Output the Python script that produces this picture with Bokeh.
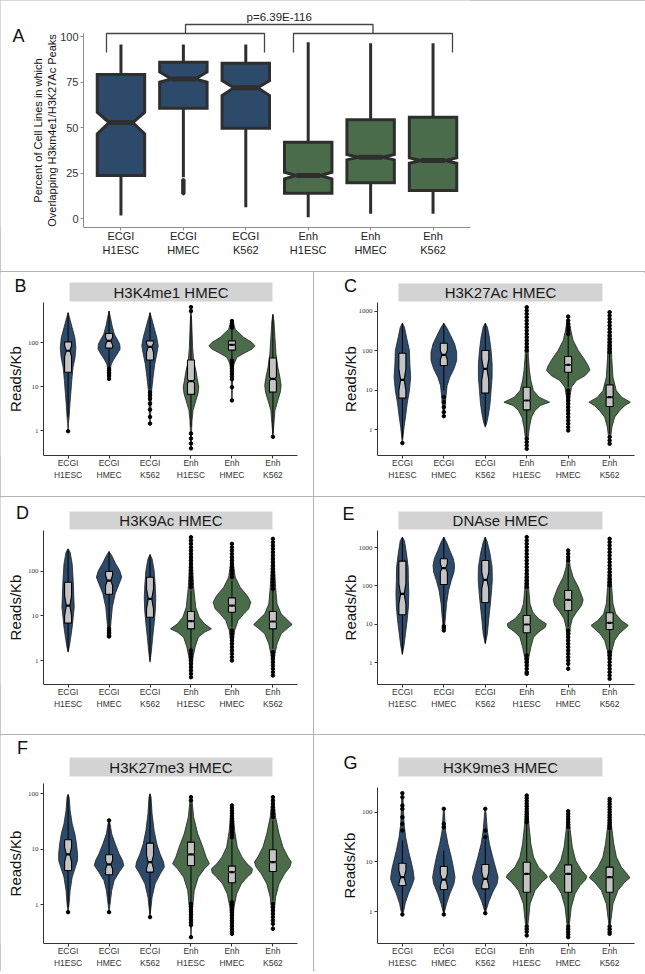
import numpy as np
from bokeh.plotting import figure
from bokeh.models import Range1d, FixedTicker, NumeralTickFormatter, Spacer
from bokeh.core.properties import value
from bokeh.layouts import column, row
from bokeh.embed import file_html
from bokeh.resources import INLINE

# ---------------- shared categories ----------------
categories = ["ECGI\nH1ESC", "ECGI\nHMEC", "ECGI\nK562", "Enh\nH1ESC", "Enh\nHMEC", "Enh\nK562"]
groups = ["ECGI", "ECGI", "ECGI", "Enh", "Enh", "Enh"]
positions = [1, 2, 3, 4, 5, 6]

# ---------------- panel A: percent of cell lines (box plot) ----------------
a_whisker_lo = [1.6, 22.7, 6.2, 0.7, 2.6, 2.6]
a_q1 = [23.6, 60.6, 49.6, 13.9, 19.6, 15.4]
a_median = [52.7, 76.7, 71.8, 23.6, 33.7, 31.9]
a_q3 = [79.1, 85.9, 85.3, 41.9, 54.2, 55.7]
a_whisker_hi = [95.6, 95.6, 95.6, 96.9, 96.3, 96.3]
a_notch_lo = [46.5, 74.9, 67.6, 21.8, 32.2, 30.4]
a_notch_hi = [58.4, 80.5, 75.8, 25.4, 35.2, 33.3]
a_outlier_cat = [2, 2, 2, 2, 2, 2, 2, 2, 2]
a_outlier_val = [21.0, 20.1, 19.2, 18.3, 17.4, 16.5, 15.6, 14.8, 13.9]
a_yticks = [0, 25, 50, 75, 100]
a_pvalue = "p=6.39E-116"

# ---------------- violin panels (values in log10 Reads/Kb) ----------------
B_title = "H3K4me1 HMEC"
B_vy = [
    [-0.015, 0.158, 0.308, 0.534, 0.835, 1.135, 1.436, 1.662, 1.887, 2.113, 2.338, 2.564, 2.677],
    [1.173, 1.361, 1.511, 1.624, 1.737, 1.85, 1.962, 2.075, 2.188, 2.376, 2.564, 2.714],
    [0.158, 0.383, 0.609, 0.91, 1.211, 1.511, 1.737, 1.925, 2.113, 2.338, 2.564, 2.677],
    [-0.406, -0.218, 0.008, 0.233, 0.459, 0.684, 0.835, 0.985, 1.135, 1.361, 1.586, 1.887, 2.263, 2.639, 2.805],
    [0.684, 0.91, 1.135, 1.361, 1.511, 1.662, 1.774, 1.85, 1.925, 2.0, 2.113, 2.301, 2.451, 2.489],
    [-0.143, 0.158, 0.459, 0.684, 0.872, 1.023, 1.211, 1.436, 1.737, 2.113, 2.489, 2.639],
]
B_vw = [
    [0, .01, .025, .04, .065, .09, .12, .17, .19, .165, .1, .035, 0],
    [0, .025, .055, .12, .2, .27, .26, .2, .13, .075, .035, 0],
    [0, .015, .025, .04, .075, .115, .165, .2, .165, .1, .035, 0],
    [0, .01, .015, .025, .05, .12, .17, .19, .16, .12, .065, .04, .025, .01, 0],
    [0, .01, .015, .025, .05, .12, .33, .49, .56, .49, .29, .08, .035, 0],
    [0, .025, .05, .12, .18, .2, .17, .12, .075, .05, .025, 0],
]
B_box = [  # whisker_lo, q1, median, q3, whisker_hi
    [0.308, 1.323, 1.812, 2.015, 2.677],
    [1.436, 1.872, 2.038, 2.203, 2.714],
    [0.947, 1.602, 1.902, 2.038, 2.677],
    [0.083, 0.82, 1.12, 1.602, 2.6],
    [1.624, 1.827, 1.947, 2.038, 2.301],
    [-0.068, 0.872, 1.173, 1.647, 2.639],
]
B_notch = [[1.677, 1.925], [1.947, 2.113], [1.774, 1.977], [1.075, 1.165], [1.93, 1.964], [1.13, 1.216]]
B_out = [
    [-0.015],
    [1.398, 1.361, 1.323, 1.286, 1.241, 1.173],
    [0.872, 0.797, 0.722, 0.609, 0.474, 0.308, 0.158],
    [2.805, 2.714, -0.068, -0.18, -0.293, -0.406],
    [2.489, 2.429, 2.376, 2.338, 1.586, 1.526, 1.466, 1.406, 1.346, 1.286, 1.226, 1.165, 0.985, 0.684],
    [-0.143],
]

C_title = "H3K27Ac HMEC"
C_vy = [
    [-0.337, -0.185, 0.067, 0.32, 0.657, 0.994, 1.331, 1.668, 2.005, 2.342, 2.595, 2.696],
    [0.345, 0.573, 0.826, 1.12, 1.331, 1.542, 1.752, 1.963, 2.174, 2.384, 2.595, 2.696],
    [0.067, 0.194, 0.404, 0.657, 0.994, 1.331, 1.668, 2.005, 2.342, 2.595, 2.696],
    [-0.48, -0.354, -0.185, 0.067, 0.32, 0.489, 0.615, 0.699, 0.826, 0.994, 1.247, 1.5, 1.837, 2.342, 3.1],
    [-0.017, 0.236, 0.489, 0.826, 1.078, 1.247, 1.373, 1.5, 1.584, 1.752, 2.005, 2.258, 2.511, 2.763, 2.864],
    [-0.354, -0.185, 0.067, 0.32, 0.489, 0.615, 0.699, 0.826, 0.994, 1.331, 1.837, 2.342, 2.932, 2.974],
]
C_vw = [
    [0, .015, .04, .075, .115, .17, .2, .18, .17, .1, .05, 0],
    [0, .03, .05, .08, .145, .245, .31, .31, .26, .165, .065, 0],
    [0, .04, .08, .115, .14, .165, .165, .14, .1, .05, 0],
    [0, .015, .035, .065, .115, .2, .33, .55, .3, .16, .1, .065, .04, .025, 0],
    [0, .015, .025, .04, .08, .2, .41, .52, .5, .41, .245, .12, .065, .025, 0],
    [0, .025, .055, .12, .245, .37, .5, .29, .16, .08, .05, .035, .015, 0],
]
C_box = [
    [-0.227, 0.8, 1.264, 1.938, 2.696],
    [0.994, 1.626, 1.896, 2.19, 2.696],
    [0.11, 0.927, 1.542, 2.005, 2.696],
    [-0.185, 0.505, 0.741, 1.078, 1.92],
    [1.078, 1.457, 1.643, 1.853, 2.384],
    [-0.101, 0.59, 0.826, 1.137, 1.921],
]
C_notch = [[0.994, 1.542], [1.769, 2.005], [1.247, 1.794], [0.72, 0.76], [1.625, 1.66], [0.805, 0.845]]
C_out = [
    [-0.337],
    [0.826, 0.699, 0.573, 0.447, 0.345],
    [],
    [3.1, 3.016, 2.932, 2.848, 2.763, 2.679, 2.595, 2.511, 2.426, 2.342, 2.258, 2.174, 2.089, 2.005,
     -0.227, -0.312, -0.396, -0.48],
    [2.864, 2.763, 2.679, 2.595, 2.511, 2.426, 0.994, 0.91, 0.826, 0.741, 0.657, 0.573, 0.489, 0.404,
     0.32, 0.236, 0.152, 0.067, -0.017],
    [2.974, 2.89, 2.805, 2.721, 2.637, 2.553, 2.468, 2.384, 2.3, 2.216, 2.131, 2.047, 1.963,
     -0.185, -0.27, -0.354],
]

D_title = "H3K9Ac HMEC"
D_vy = [
    [0.187, 0.336, 0.522, 0.746, 0.97, 1.194, 1.418, 1.791, 2.164, 2.425, 2.5],
    [0.537, 0.672, 0.896, 1.194, 1.493, 1.716, 1.866, 2.015, 2.164, 2.351, 2.44],
    [-0.037, 0.224, 0.522, 0.821, 1.119, 1.418, 1.716, 2.015, 2.276, 2.373],
    [-0.373, -0.149, 0.075, 0.299, 0.522, 0.634, 0.709, 0.821, 0.97, 1.194, 1.642, 2.164, 2.687, 2.776],
    [0.0, 0.224, 0.448, 0.672, 0.896, 1.045, 1.157, 1.306, 1.455, 1.642, 1.866, 2.164, 2.537, 2.627],
    [-0.336, -0.112, 0.149, 0.373, 0.597, 0.709, 0.806, 0.896, 1.045, 1.269, 1.642, 2.164, 2.649, 2.746],
]
D_vw = [
    [0, .035, .065, .1, .125, .15, .14, .125, .1, .05, 0],
    [0, .03, .05, .08, .15, .245, .31, .26, .165, .065, 0],
    [0, .035, .065, .1, .13, .14, .125, .1, .05, 0],
    [0, .025, .05, .1, .18, .33, .5, .33, .2, .115, .065, .035, .015, 0],
    [0, .015, .035, .065, .15, .29, .41, .46, .37, .2, .08, .035, .015, 0],
    [0, .015, .05, .1, .2, .34, .47, .37, .2, .1, .065, .035, .015, 0],
]
D_box = [
    [0.209, 0.836, 1.231, 1.754, 2.5],
    [0.746, 1.485, 1.791, 1.993, 2.44],
    [0.0, 0.97, 1.381, 1.866, 2.373],
    [0.261, 0.709, 0.881, 1.097, 1.567],
    [0.746, 1.082, 1.231, 1.403, 1.791],
    [0.261, 0.709, 0.873, 1.097, 1.567],
]
D_notch = [[1.007, 1.455], [1.679, 1.903], [1.157, 1.604], [0.86, 0.9], [1.21, 1.25], [0.853, 0.893]]
D_out = [
    [],
    [0.709, 0.672, 0.634, 0.597, 0.56, 0.537],
    [],
    [2.761, 2.687, 2.612, 2.537, 2.463, 2.388, 2.313, 2.239, 2.164, 2.09, 2.015, 1.94, 1.866, 1.791, 1.716,
     1.642, 0.224, 0.149, 0.075, 0.0, -0.075, -0.149, -0.224, -0.299, -0.373],
    [2.612, 2.537, 2.463, 2.388, 2.313, 2.239, 2.164, 2.09, 2.015, 1.94, 1.866,
     0.672, 0.597, 0.522, 0.448, 0.373, 0.299, 0.224, 0.149, 0.075, 0.0],
    [2.724, 2.649, 2.575, 2.5, 2.425, 2.351, 2.276, 2.201, 2.127, 2.052, 1.978, 1.903, 1.828, 1.754, 1.679,
     1.604, 0.187, 0.112, 0.037, -0.037, -0.112, -0.187, -0.261, -0.336],
]

E_title = "DNAse HMEC"
E_vy = [
    [0.217, 0.451, 0.755, 1.101, 1.448, 1.795, 2.142, 2.489, 2.836, 3.183, 3.27],
    [0.841, 0.928, 1.188, 1.535, 1.882, 2.142, 2.359, 2.532, 2.706, 2.923, 3.14, 3.27],
    [0.494, 0.755, 1.101, 1.448, 1.795, 2.142, 2.489, 2.836, 3.14, 3.27],
    [-0.286, -0.113, 0.147, 0.408, 0.668, 0.798, 0.928, 1.015, 1.145, 1.318, 1.535, 1.882, 2.489, 3.183, 3.27],
    [-0.156, 0.234, 0.581, 0.928, 1.145, 1.318, 1.492, 1.639, 1.752, 1.969, 2.229, 2.489, 2.836, 2.923],
    [-0.416, -0.243, 0.061, 0.321, 0.581, 0.755, 0.885, 0.971, 1.101, 1.275, 1.535, 1.969, 2.489, 3.183, 3.252],
]
E_vw = [
    [0, .04, .075, .115, .145, .155, .145, .14, .1, .05, 0],
    [0, .015, .04, .065, .115, .18, .245, .26, .23, .145, .065, 0],
    [0, .05, .08, .115, .145, .17, .165, .115, .05, 0],
    [0, .025, .05, .1, .165, .285, .45, .47, .285, .145, .08, .05, .025, .01, 0],
    [0, .01, .025, .05, .1, .2, .325, .36, .325, .245, .12, .05, .015, 0],
    [0, .01, .025, .055, .12, .23, .365, .45, .285, .145, .08, .05, .025, .01, 0],
]
E_box = [
    [0.234, 1.249, 1.795, 2.645, 3.27],
    [1.015, 2.038, 2.463, 2.706, 3.27],
    [0.512, 1.57, 2.16, 2.663, 3.27],
    [0.234, 0.781, 0.997, 1.232, 1.882],
    [0.928, 1.362, 1.639, 1.882, 2.576],
    [0.321, 0.867, 1.041, 1.301, 1.969],
]
E_notch = [[1.535, 2.055], [2.359, 2.576], [1.925, 2.359], [0.977, 1.017], [1.615, 1.663], [1.021, 1.061]]
E_out = [
    [],
    [0.954, 0.902, 0.841],
    [],
    [3.27, 3.183, 3.096, 3.01, 2.923, 2.836, 2.749, 2.663, 2.576, 2.489, 2.402, 2.316, 2.229, 2.142, 2.056,
     1.969, 0.191, 0.104, 0.017, -0.069, -0.156, -0.243, -0.286],
    [2.923, 2.836, 2.749, 2.663, 0.841, 0.755, 0.668, 0.581, 0.494, 0.408, 0.321, 0.234, 0.147, 0.061,
     -0.026, -0.156],
    [3.226, 3.14, 3.053, 2.966, 2.879, 2.793, 2.706, 2.619, 2.532, 2.446, 2.359, 2.272, 2.186, 2.099, 2.012,
     0.278, 0.191, 0.104, 0.017, -0.069, -0.156, -0.243, -0.33, -0.416],
]

F_title = "H3K27me3 HMEC"
F_vy = [
    [-0.132, 0.018, 0.258, 0.498, 0.679, 0.799, 0.919, 1.099, 1.279, 1.459, 1.7, 1.94, 1.988],
    [-0.132, 0.078, 0.258, 0.438, 0.589, 0.709, 0.799, 0.919, 1.099, 1.279, 1.459, 1.52],
    [-0.222, -0.102, 0.138, 0.378, 0.559, 0.679, 0.769, 0.919, 1.099, 1.339, 1.64, 1.94, 2.0],
    [-0.583, -0.342, -0.042, 0.258, 0.498, 0.649, 0.739, 0.859, 1.039, 1.279, 1.58, 1.88, 1.94],
    [-0.523, -0.342, -0.042, 0.198, 0.378, 0.498, 0.571, 0.649, 0.739, 0.859, 1.039, 1.339, 1.7, 1.79],
    [-0.432, -0.162, 0.138, 0.378, 0.559, 0.679, 0.769, 0.859, 1.039, 1.279, 1.58, 1.88, 1.94],
]
F_vw = [
    [0, .025, .05, .1, .18, .23, .23, .205, .165, .1, .05, .025, 0],
    [0, .035, .065, .125, .25, .36, .33, .245, .15, .065, .025, 0],
    [0, .015, .05, .125, .25, .35, .33, .245, .165, .1, .05, .025, 0],
    [0, .015, .04, .08, .18, .33, .45, .37, .29, .165, .065, .025, 0],
    [0, .015, .05, .115, .23, .37, .48, .5, .37, .245, .13, .065, .025, 0],
    [0, .025, .065, .15, .285, .41, .45, .37, .245, .15, .065, .025, 0],
]
F_box = [
    [-0.042, 0.619, 0.907, 1.171, 1.988],
    [0.018, 0.541, 0.727, 0.901, 1.49],
    [-0.162, 0.589, 0.769, 1.111, 2.0],
    [0.048, 0.709, 0.907, 1.129, 1.82],
    [0.078, 0.396, 0.589, 0.697, 1.159],
    [0.078, 0.601, 0.769, 0.991, 1.52],
]
F_notch = [[0.769, 1.039], [0.649, 0.799], [0.649, 0.889], [0.887, 0.927], [0.571, 0.607], [0.749, 0.789]]
F_out = [
    [-0.132],
    [1.52, -0.132],
    [-0.222],
    [1.94, 1.88, 0.018, -0.03, -0.078, -0.126, -0.174, -0.222, -0.27, -0.318, -0.366, -0.583],
    [1.79, 1.742, 1.694, 1.646, 1.598, 1.55, 1.502, 1.453, 1.405, 1.357, 1.309, 1.261, 1.213,
     0.048, 0.0, -0.048, -0.096, -0.144, -0.192, -0.24, -0.288, -0.336, -0.384, -0.432, -0.48, -0.523],
    [1.94, 1.88, 1.82, 1.76, 1.7, 1.64, 1.58, 0.018, -0.042, -0.102, -0.162, -0.222, -0.282, -0.342, -0.432],
]

G_title = "H3K9me3 HMEC"
G_vy = [
    [-0.06, 0.02, 0.154, 0.356, 0.523, 0.658, 0.826, 1.027, 1.228, 1.497, 1.765, 2.302, 2.383],
    [-0.06, 0.154, 0.356, 0.557, 0.691, 0.893, 1.094, 1.362, 1.631, 2.0, 2.067],
    [-0.034, 0.188, 0.389, 0.557, 0.691, 0.893, 1.094, 1.362, 1.631, 2.0, 2.067],
    [-0.483, -0.181, 0.154, 0.423, 0.591, 0.691, 0.758, 0.893, 1.094, 1.362, 1.765, 2.268, 2.336],
    [-0.517, -0.248, 0.087, 0.356, 0.523, 0.638, 0.711, 0.826, 1.027, 1.295, 1.631, 1.953, 2.02],
    [-0.45, -0.181, 0.154, 0.423, 0.591, 0.678, 0.758, 0.893, 1.094, 1.362, 1.765, 2.201, 2.268],
]
G_vw = [
    [0, .035, .065, .145, .23, .285, .26, .205, .145, .08, .04, .015, 0],
    [0, .065, .145, .245, .27, .23, .18, .1, .04, .015, 0],
    [0, .08, .18, .285, .31, .245, .18, .1, .05, .015, 0],
    [0, .04, .08, .2, .365, .5, .45, .285, .165, .1, .05, .015, 0],
    [0, .03, .075, .165, .285, .42, .45, .325, .18, .1, .05, .015, 0],
    [0, .03, .08, .2, .365, .49, .42, .285, .165, .1, .04, .015, 0],
]
G_box = [
    [-0.013, 0.523, 0.691, 0.973, 1.43],
    [-0.013, 0.443, 0.644, 0.906, 1.228],
    [0.02, 0.456, 0.658, 0.946, 1.43],
    [-0.248, 0.389, 0.758, 0.993, 1.765],
    [-0.248, 0.389, 0.758, 0.94, 1.631],
    [-0.248, 0.389, 0.691, 0.893, 1.631],
]
G_notch = [[0.557, 0.826], [0.523, 0.758], [0.523, 0.792], [0.738, 0.778], [0.738, 0.778], [0.671, 0.711]]
G_out = [
    [2.383, 2.302, 2.134, 2.067, 1.899, 1.765, 1.631, -0.06],
    [2.067, 1.765, 1.698, -0.06],
    [2.067, 1.631, 1.497, -0.034],
    [2.336, 2.282, 2.228, 2.174, 2.121, 2.067, 2.013, 1.96, 1.906, 1.852, 1.799, -0.302, -0.356, -0.409, -0.483],
    [2.02, 1.966, 1.913, 1.859, 1.805, 1.752, 1.698, -0.302, -0.356, -0.409, -0.463, -0.517],
    [2.268, 2.215, 2.161, 2.107, 2.054, 2.0, 1.946, 1.893, 1.839, 1.785, 1.732, 1.678, -0.302, -0.356, -0.409, -0.45],
]
log_ticks = [1, 10, 100, 1000]

# ---------------- layout / style (pixels on the page) ----------------
COLORS = {"ECGI": "#2e4a6b", "Enh": "#4b6c4a"}
FONT = "Liberation Sans"
SEP = "#b3b3b3"
# fig=(x, y, w, h); axis_x = y-axis position; frame=(right, bottom); cal = two (pixel row, log10 value) pairs
LAYOUT = {
    "B": dict(fig=(0, 272, 313, 224), axis_x=43, frame=(297, 455), cal=((430, 0.0), (342, 2.0)),
              axis_top=302, strip=(69, 272, 282, 301), letter=(20, 285), lab_standoff=1),
    "C": dict(fig=(314, 272, 331, 224), axis_x=377, frame=(634, 455), cal=((429.3, 0.0), (310.7, 3.0)),
              axis_top=302, strip=(398, 602, 283, 301), letter=(350, 285), lab_standoff=-3),
    "D": dict(fig=(0, 497, 313, 237), axis_x=43, frame=(297, 684), cal=((660, 0.0), (570.7, 2.0)),
              axis_top=530, strip=(69, 272, 511, 529), letter=(22, 512), lab_standoff=1),
    "E": dict(fig=(314, 497, 331, 237), axis_x=377, frame=(634, 684), cal=((662.3, 0.0), (547, 3.0)),
              axis_top=530, strip=(398, 602, 511, 529), letter=(348, 513), lab_standoff=-3),
    "F": dict(fig=(0, 735, 313, 236), axis_x=43, frame=(297, 943), cal=((904.3, 0.0), (793.3, 2.0)),
              axis_top=783, strip=(69, 272, 757, 776), letter=(22, 747), lab_standoff=1),
    "G": dict(fig=(314, 735, 331, 236), axis_x=377, frame=(634, 943), cal=((911, 0.0), (811.7, 2.0)),
              axis_top=787, strip=(398, 602, 757, 776), letter=(350, 762), lab_standoff=1),
}
X_LO, X_HI = 0.4, 6.6


def base_figure(fig, axis_x, frame_r, frame_b, y_range, y_axis_type="linear"):
    fx, fy, fw, fh = fig
    scale = (X_HI - X_LO) / (frame_r - axis_x)
    x_start = X_LO - (axis_x - fx) * scale
    p = figure(width=fw, height=fh, x_range=Range1d(x_start, X_HI), y_range=y_range,
               y_axis_type=y_axis_type, output_backend="svg", toolbar_location=None,
               outline_line_color=None, min_border_left=0, min_border_right=fx + fw - frame_r,
               min_border_top=0, min_border_bottom=fy + fh - frame_b)
    p.xgrid.visible = False
    p.ygrid.visible = False
    p.background_fill_color = "white"
    p.border_fill_color = "white"
    p.yaxis.fixed_location = X_LO
    p.xaxis.bounds = (X_LO, X_HI)

    def px2x(px):
        return X_LO + (px - axis_x) * scale
    return p, px2x


def style_axes(p, tick_fs, xlab_fs, axis_color):
    for ax in (p.xaxis[0], p.yaxis[0]):
        ax.axis_line_color = axis_color
        ax.axis_line_width = 1
        ax.major_tick_line_color = axis_color
        ax.major_tick_out = 3
        ax.major_tick_in = 0
        ax.minor_tick_line_color = None
        ax.major_label_text_font = FONT
        ax.major_label_text_color = "#333333"
        ax.major_label_standoff = 2
        ax.axis_label_text_font = FONT
        ax.axis_label_text_font_style = "normal"
        ax.axis_label_text_color = "#111111"
    p.xaxis.ticker = FixedTicker(ticks=positions)
    p.xaxis.major_label_overrides = {k: c for k, c in zip(positions, categories)}
    p.xaxis.major_label_text_font_size = xlab_fs
    p.xaxis.major_label_standoff = -1
    p.yaxis.major_label_text_font_size = tick_fs


def notched(c, hw, q1, med, q3, nlo, nhi):
    nlo = max(nlo, q1)
    nhi = min(nhi, q3)
    xs = [c - hw, c - hw, c - hw / 2, c - hw, c - hw, c + hw, c + hw, c + hw / 2, c + hw, c + hw]
    ys = [q1, nlo, med, nhi, q3, q3, nhi, med, nlo, q1]
    return xs, ys


# ---------------- panel A ----------------
fa = (0, 0, 645, 271)
a_axis_x, a_fr, a_fb = 83, 470, 227


def a_py2y(py):  # value 0 at y=218 px, 25 per 45.5 px
    return (218 - py) / 1.82


pA, a_px2x = base_figure(fa, a_axis_x, a_fr, a_fb, Range1d(a_py2y(a_fb), a_py2y(fa[1])))
style_axes(pA, "11px", "11px", "#8c8c8c")
pA.yaxis.ticker = FixedTicker(ticks=a_yticks)
pA.yaxis.bounds = (a_py2y(a_fb), a_py2y(33))
pA.yaxis.axis_label = "Percent of Cell Lines in which\nOverlapping H3km4e1/H3K27Ac Peaks"
pA.yaxis.axis_label_text_font_size = "11px"
pA.yaxis.axis_label_standoff = -1
pA.xaxis.major_label_standoff = -1
pA.xaxis.major_label_text_color = "#222222"

a_hw = 0.38
pA.segment(x0=positions, y0=a_whisker_lo, x1=positions, y1=a_whisker_hi, line_color="#2e2e2e", line_width=3)
bxs, bys = [], []
for c, q1, md, q3, nl, nh in zip(positions, a_q1, a_median, a_q3, a_notch_lo, a_notch_hi):
    xs, ys = notched(c, a_hw, q1, md, q3, nl, nh)
    bxs.append(xs)
    bys.append(ys)
pA.patches(bxs, bys, fill_color=[COLORS[g] for g in groups], line_color="#2e2e2e", line_width=3,
           line_join="miter")
pA.segment(x0=[c - a_hw / 2 for c in positions], y0=a_median, x1=[c + a_hw / 2 for c in positions],
           y1=a_median, line_color="#2e2e2e", line_width=5)
pA.scatter(a_outlier_cat, a_outlier_val, size=3.5, color="#2e2e2e")

# significance bracket (pixel positions of the reference, converted to data)
br_groups = [(a_px2x(106), a_px2x(264)), (a_px2x(293), a_px2x(452))]
br_bar, br_arm, br_top, br_text = a_py2y(33), a_py2y(52), a_py2y(24), a_py2y(16)
mids = [(g0 + g1) / 2 for g0, g1 in br_groups]
pA.multi_line(xs=[[g0, g0, g1, g1] for g0, g1 in br_groups] + [[mids[0], mids[0], mids[1], mids[1]]],
              ys=[[br_arm, br_bar, br_bar, br_arm]] * 2 + [[br_bar, br_top, br_top, br_bar]],
              line_color="#444444", line_width=1.3)
pA.text(x=[sum(mids) / 2], y=[br_text], text=[a_pvalue], text_align="center", text_baseline="middle",
        text_font=value(FONT), text_font_size="11.5px", text_color="#222222")
pA.text(x=[a_px2x(18)], y=[a_py2y(35)], text=["A"], text_align="center", text_baseline="middle",
        text_font=value(FONT), text_font_size="18px", text_color="#111111")


# ---------------- violin panels ----------------
def violin_panel(key, title, vy, vw, box, notch, outl):
    L = LAYOUT[key]
    fr, fb = L["frame"]
    ft = L["fig"][1]
    (p0, l0), (p1, l1) = L["cal"]

    def py2log(py):
        return l0 + (p0 - py) * (l1 - l0) / (p0 - p1)

    lo, hi = py2log(fb), py2log(ft)
    p, px2x = base_figure(L["fig"], L["axis_x"], fr, fb, Range1d(10 ** lo, 10 ** hi), "log")
    style_axes(p, "7px", "8.5px", "#333333")
    top_log = py2log(L["axis_top"])
    p.yaxis.ticker = FixedTicker(ticks=[t for t in log_ticks if np.log10(t) <= top_log])
    p.yaxis.formatter = NumeralTickFormatter(format="0")
    p.yaxis.major_label_text_font = "Liberation Serif"
    p.yaxis.bounds = (10 ** lo, 10 ** top_log)
    p.yaxis.axis_label = "Reads/Kb"
    p.yaxis.axis_label_text_font_size = "15px"
    p.yaxis.axis_label_standoff = L["lab_standoff"]

    # strip
    sx0, sx1, sy0, sy1 = L["strip"]
    p.quad(left=[px2x(sx0)], right=[px2x(sx1)], bottom=[10 ** py2log(sy1)], top=[10 ** py2log(sy0)],
           fill_color="#d3d3d3", line_color=None)
    p.text(x=[(px2x(sx0) + px2x(sx1)) / 2], y=[10 ** py2log((sy0 + sy1) / 2)], text=[title],
           text_align="center", text_baseline="middle", text_font=value(FONT),
           text_font_size="15px", text_color="#1a1a1a")
    lx, ly = L["letter"]
    p.text(x=[px2x(lx)], y=[10 ** py2log(ly)], text=[key], text_align="center", text_baseline="middle",
           text_font=value(FONT), text_font_size="18px", text_color="#111111")

    # violins
    xs, ys = [], []
    for c, yk, wk in zip(positions, vy, vw):
        yk = np.array(yk)
        wk = np.array(wk)
        xs.append(np.concatenate([c + wk, (c - wk)[::-1]]))
        ys.append(np.concatenate([10 ** yk, (10 ** yk)[::-1]]))
    p.patches(xs, ys, fill_color=[COLORS[g] for g in groups], line_color="#1f1f1f", line_width=0.8)

    # whiskers
    p.segment(x0=positions, y0=[10 ** b[0] for b in box], x1=positions, y1=[10 ** b[4] for b in box],
              line_color="black", line_width=1)
    # notched boxes
    hw = 0.085
    bx, byy = [], []
    for c, b, n in zip(positions, box, notch):
        bxx, bys_ = notched(c, hw, b[1], b[2], b[3], n[0], n[1])
        bx.append(bxx)
        byy.append([10 ** v for v in bys_])
    p.patches(bx, byy, fill_color="#c4c4c4", line_color="black", line_width=1.1)
    p.segment(x0=[c - hw / 2 for c in positions], y0=[10 ** b[2] for b in box],
              x1=[c + hw / 2 for c in positions], y1=[10 ** b[2] for b in box],
              line_color="black", line_width=2.2)
    # outliers
    ox, oy = [], []
    for c, vals in zip(positions, outl):
        for v in vals:
            ox.append(c)
            oy.append(10 ** v)
    p.scatter(ox, oy, size=3.5, color="black")
    return p


pB = violin_panel("B", B_title, B_vy, B_vw, B_box, B_notch, B_out)
pC = violin_panel("C", C_title, C_vy, C_vw, C_box, C_notch, C_out)
pD = violin_panel("D", D_title, D_vy, D_vw, D_box, D_notch, D_out)
pE = violin_panel("E", E_title, E_vy, E_vw, E_box, E_notch, E_out)
pF = violin_panel("F", F_title, F_vy, F_vw, F_box, F_notch, F_out)
pG = violin_panel("G", G_title, G_vy, G_vw, G_box, G_notch, G_out)


def hsep():
    return Spacer(width=645, height=1, margin=0, styles={"background-color": SEP})


def vsep(h):
    return Spacer(width=1, height=h, margin=0, styles={"background-color": SEP})


layout = column(pA, hsep(),
                row(pB, vsep(224), pC), hsep(),
                row(pD, vsep(237), pE), hsep(),
                row(pF, vsep(236), pG),
                styles={"outline": "1px solid " + SEP, "outline-offset": "-1px"})

open("out.html", "w").write(file_html(layout, INLINE))
